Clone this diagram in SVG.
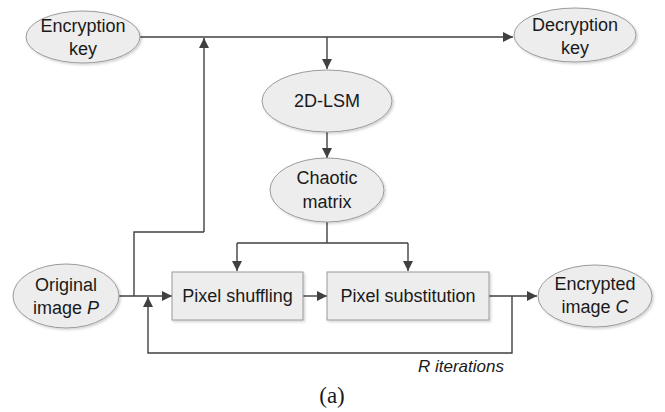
<svg xmlns="http://www.w3.org/2000/svg" width="665" height="412" viewBox="0 0 665 412">
<defs>
<marker id="arr" viewBox="0 0 10 10" refX="10" refY="5" markerWidth="10" markerHeight="10" markerUnits="userSpaceOnUse" orient="auto">
<path d="M0,0 L10,5 L0,10 z" fill="#404040"/>
</marker>
<filter id="sh" x="-10%" y="-10%" width="125%" height="130%">
<feDropShadow dx="1.5" dy="1.5" stdDeviation="1" flood-color="#000" flood-opacity="0.18"/>
</filter>
<style>
.node{fill:#ededed;stroke:#9a9a9a;stroke-width:1;filter:url(#sh)}
.t{font-family:"Liberation Sans",Arial,sans-serif;font-size:18px;fill:#1a1a1a;text-anchor:middle}
.c{fill:none;stroke:#404040;stroke-width:1.4}
.a{marker-end:url(#arr)}
</style>
</defs>
<rect width="665" height="412" fill="#fff"/>
<g id="connectors">
<path class="c a" d="M140,37 H513"/>
<path class="c a" d="M327,37 V69"/>
<path class="c a" d="M204,232 V38"/>
<path class="c" d="M134,296 V232 H204"/>
<path class="c a" d="M327,132 V158"/>
<path class="c" d="M327,222 V243 M237,243 H408"/>
<path class="c a" d="M237,243 V271"/>
<path class="c a" d="M408,243 V271"/>
<path class="c a" d="M119,296 H172"/>
<path class="c a" d="M303,296 H327"/>
<path class="c a" d="M489,296 H537"/>
<path class="c a" d="M512,296 V353 H148 V297"/>
<text x="461" y="372" class="t" font-style="italic" style="font-size:17px">R iterations</text>
</g>
<g id="encryption-key">
<ellipse class="node" cx="83" cy="37" rx="57" ry="26"/>
<text class="t" x="83" y="32">Encryption</text>
<text class="t" x="83" y="55">key</text>
</g>
<g id="decryption-key">
<ellipse class="node" cx="575" cy="35" rx="61" ry="27"/>
<text class="t" x="575" y="31">Decryption</text>
<text class="t" x="575" y="54">key</text>
</g>
<g id="lsm">
<ellipse class="node" cx="327" cy="101" rx="65" ry="31"/>
<text class="t" x="327" y="107">2D-LSM</text>
</g>
<g id="chaotic-matrix">
<ellipse class="node" cx="327" cy="190" rx="57" ry="32"/>
<text class="t" x="327" y="184">Chaotic</text>
<text class="t" x="327" y="208">matrix</text>
</g>
<g id="original-image">
<ellipse class="node" cx="66" cy="296" rx="53" ry="32"/>
<text class="t" x="66" y="291">Original</text>
<text class="t" x="66" y="314">image <tspan font-style="italic">P</tspan></text>
</g>
<g id="pixel-shuffling">
<rect class="node" x="172" y="272" width="131" height="48"/>
<text class="t" x="237.5" y="302">Pixel shuffling</text>
</g>
<g id="pixel-substitution">
<rect class="node" x="327" y="272" width="162" height="48"/>
<text class="t" x="408" y="302">Pixel substitution</text>
</g>
<g id="encrypted-image">
<ellipse class="node" cx="595" cy="296" rx="57" ry="31"/>
<text class="t" x="595" y="290">Encrypted</text>
<text class="t" x="595" y="313">image <tspan font-style="italic">C</tspan></text>
</g>
<text x="332" y="403" font-family="'Liberation Serif','Times New Roman',serif" font-size="23" text-anchor="middle" fill="#1a1a1a">(a)</text>
</svg>
